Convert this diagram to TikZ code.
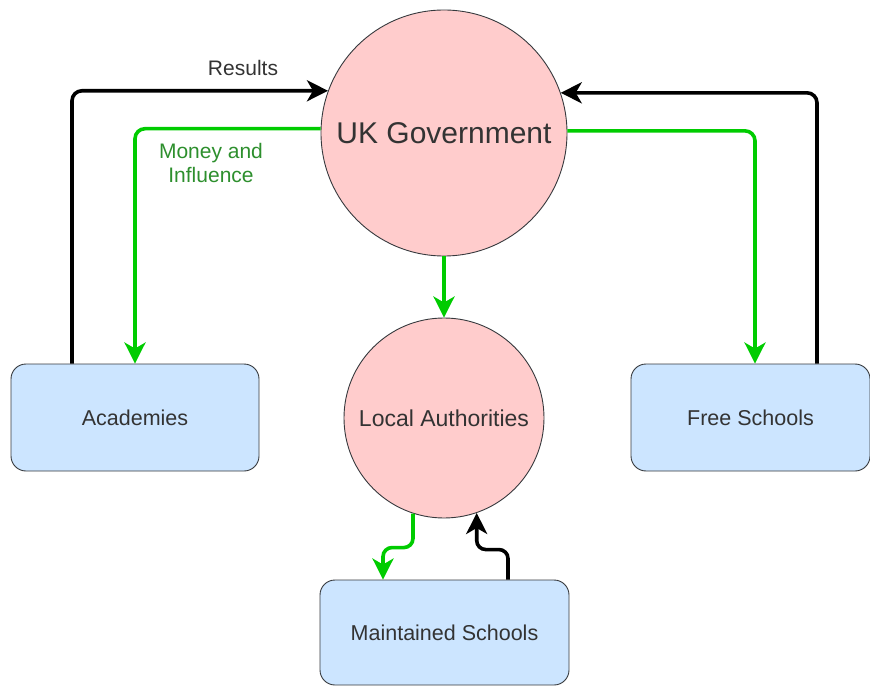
\documentclass[tikz,border=0pt]{standalone}
\usepackage{fontspec}
\setmainfont{Liberation Sans}
\usetikzlibrary{arrows.meta}
\definecolor{circfill}{HTML}{FFCCCC}
\definecolor{boxfill}{HTML}{CCE5FF}
\definecolor{edge}{HTML}{36393D}
\definecolor{grn}{HTML}{00CC00}
\definecolor{lblgrn}{HTML}{2D8F2D}
\definecolor{txt}{HTML}{333333}
\tikzset{
  circ/.style={circle, draw=edge, fill=circfill, line width=0.9pt, inner sep=0pt, text=txt},
  sbox/.style={rectangle, rounded corners=15pt, draw=edge, fill=boxfill, line width=0.9pt, minimum width=248pt, minimum height=107pt, inner sep=0pt, text=txt, font=\fontsize{21.5}{25}\selectfont},
  conn/.style={line width=3.6pt, rounded corners=10pt, -{Stealth[length=21pt,width=21pt,inset=6pt]}},
  blk/.style={conn, draw=black},
  gline/.style={conn, draw=grn},
  lbl/.style={text=txt, font=\fontsize{21}{25}\selectfont}
}
\begin{document}
\begin{tikzpicture}[x=1pt,y=-1pt]
\useasboundingbox (0,0) rectangle (870,687);
\node[circ, minimum size=246pt, font=\fontsize{30}{34}\selectfont] (gov) at (444,133) {UK Government};
\node[circ, minimum size=200pt, font=\fontsize{23}{27}\selectfont] (la) at (444,418) {Local Authorities};
\node[sbox] (acad) at (135,417.5) {Academies};
\node[sbox, minimum width=239pt] (free) at (750.5,417.5) {Free Schools};
\node[sbox, minimum width=249pt, minimum height=105pt] (ms) at (444.5,632.5) {Maintained Schools};
\node[lbl] (res) at (243,68) {Results};
\node[lbl, text=lblgrn, align=center, font=\fontsize{21}{24}\selectfont] (mi) at (211,163) {Money and\\Influence};
% arrows
\draw[blk] ([xshift=-63pt]acad.north) |- (gov.160.5);
\draw[gline] (gov.178.6) -| (acad.north);
\draw[gline] (gov.1.4) -| ([xshift=4.5pt]free.north);
\draw[blk] ([xshift=66.5pt]free.north) |- (gov.19.5);
\draw[gline] (gov.south) -- (la.north);
\draw[gline, rounded corners=9pt] (la.252.5) |- ([xshift=-61.5pt,yshift=32pt]ms.north) -- ([xshift=-61.5pt]ms.north);
\draw[blk, rounded corners=9pt] ([xshift=63.5pt]ms.north) -- ([xshift=63.5pt,yshift=30pt]ms.north) -| (la.289.3);
\end{tikzpicture}
\end{document}
